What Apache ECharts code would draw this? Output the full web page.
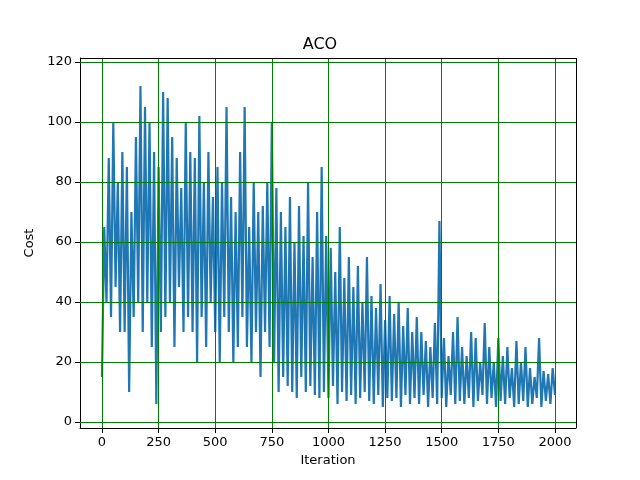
<!DOCTYPE html>
<html>
<head>
<meta charset="utf-8">
<script src="https://cdn.jsdelivr.net/npm/echarts@6/dist/echarts.min.js"></script>
<style>html,body{margin:0;background:#fff}#chart{width:640px;height:480px}</style>
</head>
<body>
<div id="chart"></div>
<script>
var step = 10;
var cost = [
    15, 65, 40, 88, 35, 100, 45, 80, 30, 90,
    30, 85, 10, 70, 35, 95, 40, 112, 30, 105,
    40, 100, 25, 90, 6, 85, 30, 110, 35, 108,
    40, 95, 25, 88, 45, 78, 30, 100, 35, 90,
    30, 88, 20, 102, 35, 80, 25, 90, 40, 75,
    30, 85, 20, 80, 35, 105, 30, 75, 20, 70,
    25, 90, 35, 105, 25, 65, 20, 80, 30, 70,
    15, 72, 30, 80, 25, 100, 20, 78, 10, 70,
    15, 65, 12, 75, 10, 60, 8, 72, 15, 62,
    10, 80, 12, 55, 9, 70, 8, 85, 10, 62,
    8, 58, 12, 50, 6, 65, 10, 48, 7, 55,
    9, 45, 6, 52, 8, 40, 10, 55, 7, 42,
    6, 38, 9, 46, 5, 34, 8, 42, 7, 36,
    8, 40, 5, 32, 9, 38, 6, 30, 8, 35,
    6, 30, 9, 27, 5, 25, 8, 33, 6, 67,
    8, 28, 5, 22, 9, 30, 6, 35, 7, 25,
    6, 22, 8, 30, 5, 28, 7, 20, 9, 33,
    6, 25, 8, 20, 5, 28, 7, 22, 6, 25,
    8, 18, 5, 27, 6, 20, 7, 25, 5, 18,
    6, 15, 8, 28, 5, 17, 7, 16, 6, 18,
    9
];
var xTicks = [0, 250, 500, 750, 1000, 1250, 1500, 1750, 2000];
var yTicks = [0, 20, 40, 60, 80, 100, 120];

var chart = echarts.init(document.getElementById('chart'));
var points = cost.map(function (v, i) { return [i * step, v]; });
var gridLines = xTicks.map(function (t) { return { xAxis: t }; })
    .concat(yTicks.map(function (t) { return { yAxis: t }; }));
var plain = function (v) { return String(v); };

chart.setOption({
    animation: false,
    title: {
        text: 'ACO', left: 'center', top: 32,
        textStyle: { fontFamily: 'DejaVu Sans', fontSize: 16, fontWeight: 'normal', color: '#000' }
    },
    grid: { left: 80, right: 64, top: 58, bottom: 52 },
    xAxis: {
        type: 'value', min: -97, max: 2093,
        name: 'Iteration', nameLocation: 'middle', nameGap: 26,
        nameTextStyle: { fontFamily: 'DejaVu Sans', fontSize: 13, color: '#000' },
        axisLine: { onZero: false, lineStyle: { color: '#000' } },
        axisTick: { show: true, customValues: xTicks, lineStyle: { color: '#000' } },
        axisLabel: { customValues: xTicks, formatter: plain, fontFamily: 'DejaVu Sans', fontSize: 13, color: '#000' },
        splitLine: { show: false }
    },
    yAxis: {
        type: 'value', min: -2, max: 121.3,
        name: 'Cost', nameLocation: 'middle', nameGap: 44,
        nameTextStyle: { fontFamily: 'DejaVu Sans', fontSize: 13, color: '#000' },
        axisLine: { show: true, onZero: false, lineStyle: { color: '#000' } },
        axisTick: { show: true, customValues: yTicks, lineStyle: { color: '#000' } },
        axisLabel: { customValues: yTicks, formatter: plain, fontFamily: 'DejaVu Sans', fontSize: 13, color: '#000' },
        splitLine: { show: false }
    },
    series: [{
        type: 'line',
        data: points,
        showSymbol: false,
        lineStyle: { color: '#1f77b4', width: 2.2 },
        markLine: {
            silent: true, symbol: 'none', label: { show: false },
            lineStyle: { color: 'green', type: 'solid', width: 1 },
            data: gridLines
        }
    }, {
        // frame on top/right
        type: 'line', data: [],
        markLine: {
            silent: true, symbol: 'none', label: { show: false },
            lineStyle: { color: '#000', type: 'solid', width: 1 },
            data: [{ xAxis: 2093 }, { yAxis: 121.3 }]
        }
    }]
});
</script>
</body>
</html>
